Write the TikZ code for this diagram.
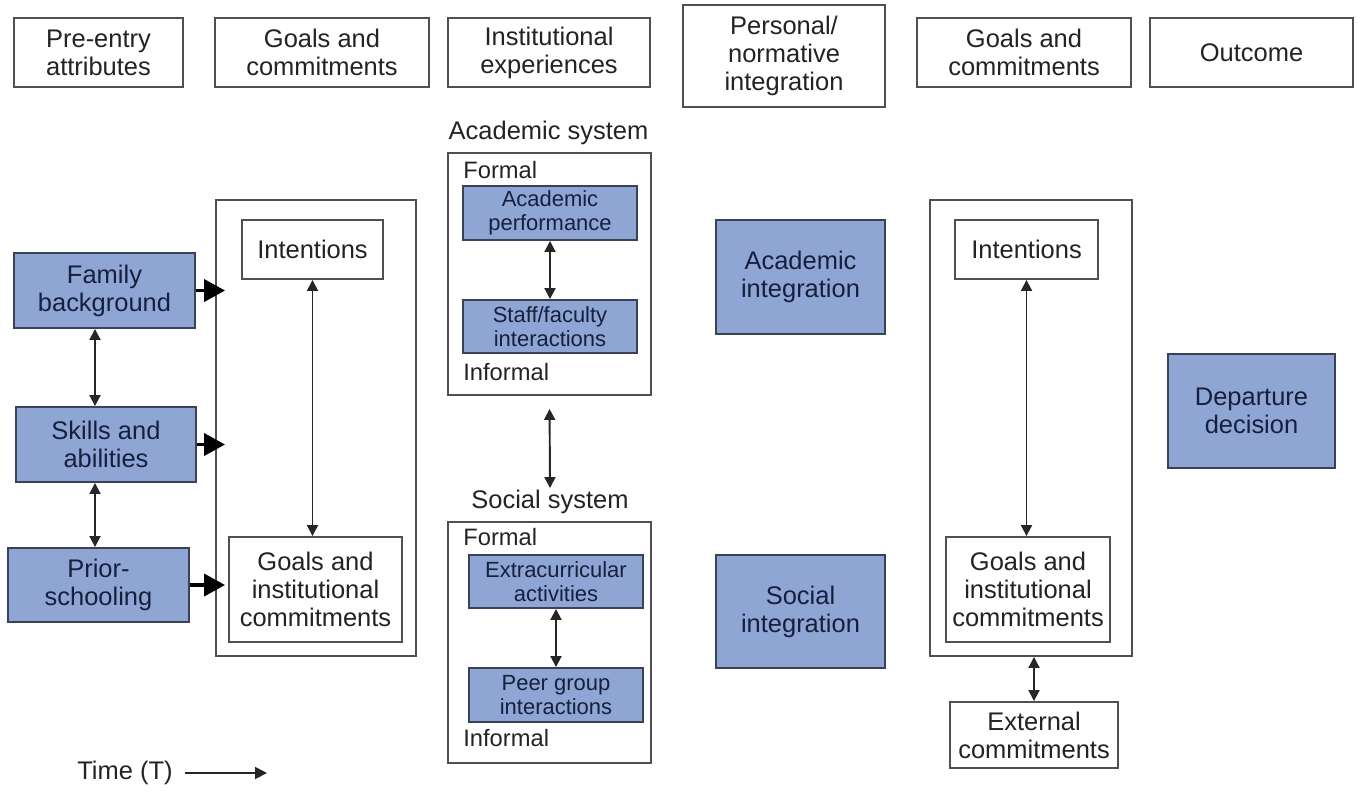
\documentclass[tikz,border=0pt]{standalone}
\usepackage{fontspec}
\setmainfont{Liberation Sans}
\usepackage{tikz}
\usetikzlibrary{arrows.meta,positioning,calc}
\definecolor{boxblue}{RGB}{143,165,212}
\definecolor{blueline}{RGB}{58,66,88}
\definecolor{bluetext}{RGB}{22,32,62}
\definecolor{greyline}{RGB}{80,80,80}
\definecolor{greytext}{RGB}{35,35,35}

\begin{document}
\begin{tikzpicture}[x=0.02cm, y=-0.02cm,
  headbox/.style={draw=greyline, line width=1.1pt, fill=white, align=center, text=greytext,
    font=\fontsize{14.5}{16}\selectfont, inner sep=0pt},
  bluebox/.style={draw=blueline, line width=1.1pt, fill=boxblue, align=center, text=bluetext,
    font=\fontsize{14.5}{16}\selectfont, inner sep=0pt},
  subbox/.style={bluebox, font=\fontsize{12.5}{14}\selectfont},
  outerbox/.style={draw=greyline, line width=1.1pt, inner sep=0pt},
  sysname/.style={text=greytext, font=\fontsize{14.5}{16}\selectfont, inner sep=1pt},
  tagtext/.style={text=greytext, font=\fontsize{13.5}{15}\selectfont, inner sep=0pt, anchor=west},
  twoway/.style={{Triangle[length=0.22cm,width=0.22cm]}-{Triangle[length=0.22cm,width=0.22cm]},
    line width=1.1pt, draw=black!85},
  bigarrow/.style={-{Triangle[length=0.42cm,width=0.44cm]}, line width=2.2pt, shorten >=-0.2cm},
  timearrow/.style={-{Triangle[length=0.24cm,width=0.24cm]}, line width=1pt, draw=black!85}]

\useasboundingbox (0,0) rectangle (1361,792);

% Column headings
\node[headbox, minimum width=3.38cm, minimum height=1.38cm] (hpre) at (98.5,52.5) {Pre-entry\\attributes};
\node[headbox, minimum width=4.28cm, minimum height=1.38cm] (hgoalsl) at (322,52.5) {Goals and\\commitments};
\node[headbox, minimum width=4.04cm, minimum height=1.38cm] (hinst) at (549,52.5) {Institutional\\experiences};
\node[headbox, minimum width=4.04cm, minimum height=2.04cm] (hpers) at (784,56) {Personal/\\normative\\integration};
\node[headbox, minimum width=4.28cm, minimum height=1.38cm] (hgoalsr) at (1024,52.5) {Goals and\\commitments};
\node[headbox, minimum width=4.06cm, minimum height=1.38cm] (hout) at (1251.5,52.5) {Outcome};

% Pre-entry attributes
\node[bluebox, minimum width=3.62cm, minimum height=1.5cm] (family) at (104.5,290.5) {Family\\background};
\node[bluebox, minimum width=3.6cm, minimum height=1.5cm] (skills) at (106,444.5) {Skills and\\abilities};
\node[bluebox, minimum width=3.62cm, minimum height=1.48cm] (prior) at (98.5,585) {Prior-\\schooling};
\coordinate (lx) at (95,0);
\draw[twoway] (family.south -| lx) -- (skills.north -| lx);
\draw[twoway] (skills.south -| lx) -- (prior.north -| lx);

% Goals and commitments (entry)
\node[outerbox, minimum width=4cm, minimum height=9.12cm] (lbox) at (316,428) {};
\node[headbox, minimum width=2.82cm, minimum height=1.18cm] (lint) at (312.5,249.5) {Intentions};
\node[headbox, minimum width=3.46cm, minimum height=2.1cm] (lgoal) at (315.5,589.5) {Goals and\\institutional\\commitments};
\draw[twoway] (lint.south) -- (lint.south |- lgoal.north);
\draw[bigarrow] (family.east) -- (family.east -| lbox.west);
\draw[bigarrow] (skills.east) -- (skills.east -| lbox.west);
\draw[bigarrow] (prior.east) -- (prior.east -| lbox.west);

% Academic system
\node[sysname] (acname) at (548.5,133) {Academic system};
\node[outerbox, minimum width=4.06cm, minimum height=4.84cm] (acbox) at (549.5,274) {};
\node[tagtext] (acformal) at (463,170) {Formal};
\node[subbox, minimum width=3.48cm, minimum height=1.08cm] (acperf) at (550,213) {Academic\\performance};
\node[subbox, minimum width=3.48cm, minimum height=1.06cm] (staff) at (550,326.5) {Staff/faculty\\interactions};
\node[tagtext] (acinformal) at (463,372) {Informal};
\draw[twoway] (acperf.south) -- (staff.north);

% Social system
\node[sysname] (soname) at (550,502) {Social system};
\node[outerbox, minimum width=4.06cm, minimum height=4.82cm] (sobox) at (549.5,642.5) {};
\node[tagtext] (soformal) at (463,537) {Formal};
\node[subbox, minimum width=3.48cm, minimum height=1.06cm] (extra) at (556,581.5) {Extracurricular\\activities};
\node[subbox, minimum width=3.48cm, minimum height=1.08cm] (peer) at (556,695) {Peer group\\interactions};
\node[tagtext] (soinformal) at (463,738) {Informal};
\draw[twoway] (extra.south) -- (peer.north);
\draw[twoway, shorten <=0.26cm] (acbox.south) -- (soname.north);

% Integration
\node[bluebox, minimum width=3.38cm, minimum height=2.28cm] (acint) at (800.5,277) {Academic\\integration};
\node[bluebox, minimum width=3.38cm, minimum height=2.26cm] (soint) at (800.5,611.5) {Social\\integration};

% Goals and commitments (later)
\node[outerbox, minimum width=4.04cm, minimum height=9.12cm] (rbox) at (1031,428) {};
\node[headbox, minimum width=2.86cm, minimum height=1.18cm] (rint) at (1026.5,249.5) {Intentions};
\node[headbox, minimum width=3.28cm, minimum height=2.1cm] (rgoal) at (1028,589.5) {Goals and\\institutional\\commitments};
\node[headbox, minimum width=3.36cm, minimum height=1.32cm] (ext) at (1034,735) {External\\commitments};
\draw[twoway] (rint.south) -- (rint.south |- rgoal.north);
\draw[twoway] (ext.north |- rbox.south) -- (ext.north);

% Outcome
\node[bluebox, minimum width=3.34cm, minimum height=2.28cm] (dep) at (1251.5,411) {Departure\\decision};

% Time axis
\node[sysname] (time) at (125,773) {Time (T)};
\coordinate (tend) at (267,773);
\draw[timearrow, shorten <=0.2cm] (time.east) -- (tend);

\end{tikzpicture}
\end{document}
